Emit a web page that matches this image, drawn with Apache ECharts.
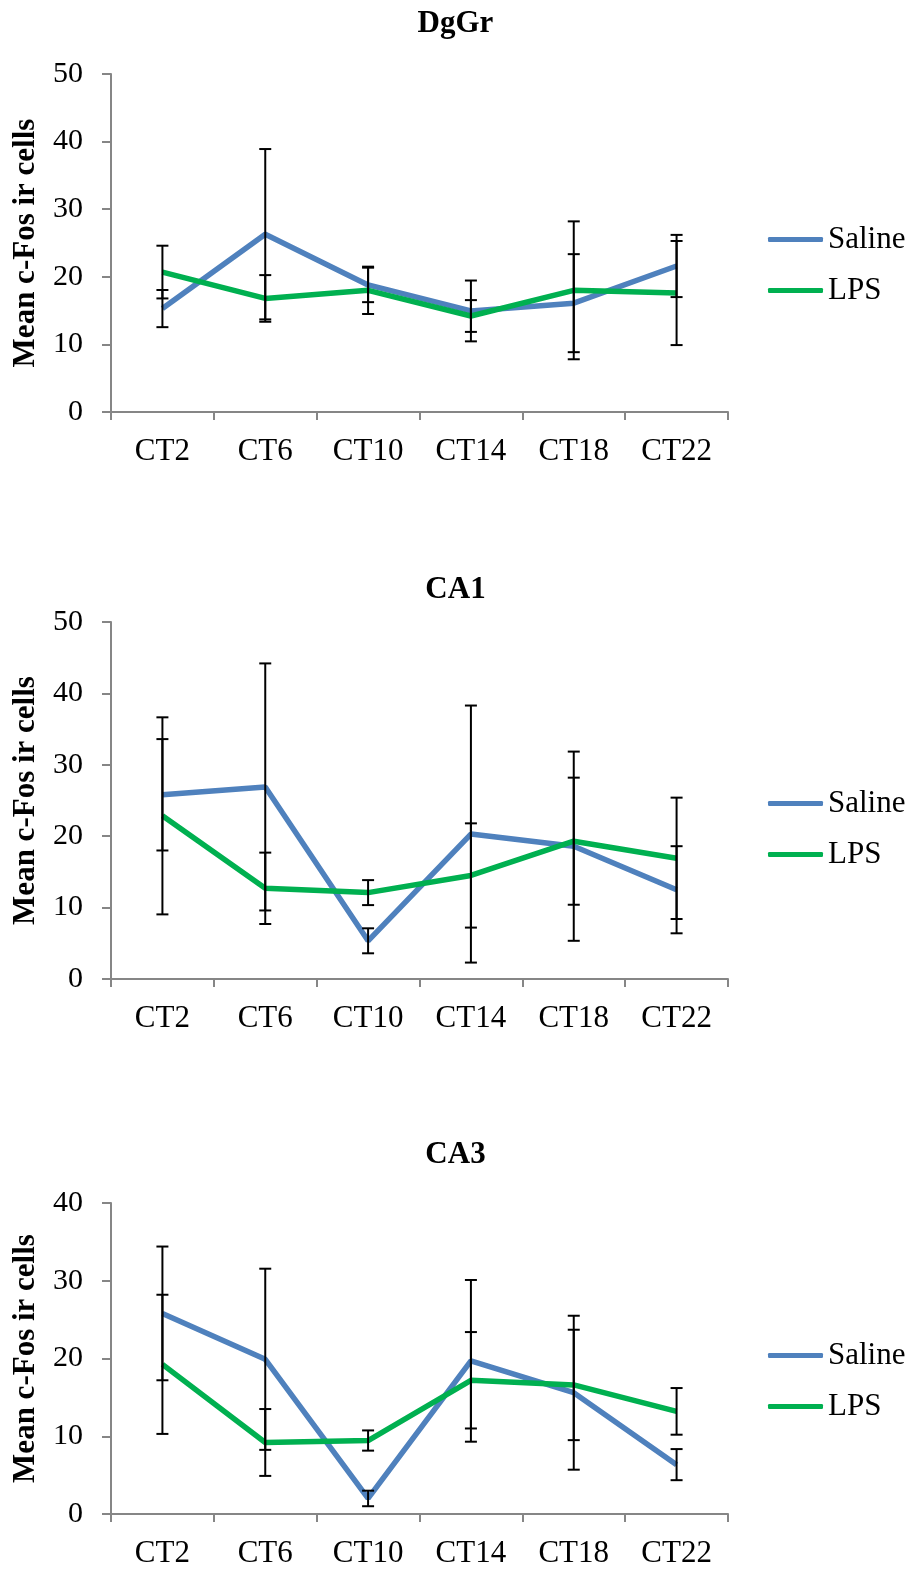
<!DOCTYPE html>
<html>
<head>
<meta charset="utf-8">
<script src="https://cdn.jsdelivr.net/npm/echarts@6/dist/echarts.min.js"></script>
<style>
html,body{margin:0;padding:0;background:#fff;}
#chart{width:911px;height:1569px;}
</style>
</head>
<body>
<div id="chart"></div>
<script>
const categories = ['CT2', 'CT6', 'CT10', 'CT14', 'CT18', 'CT22'];
const panelTitles = ['DgGr', 'CA1', 'CA3'];
const yMax = [50, 50, 40];

const dggrSaline = [15.3, 26.3, 18.8, 14.95, 16.1, 21.6];
const dggrSalineErr = [2.75, 12.6, 2.55, 4.5, 7.25, 4.6];
const dggrLps = [20.7, 16.8, 18.0, 14.2, 18.0, 17.6];
const dggrLpsErr = [3.9, 3.45, 3.5, 2.35, 10.2, 7.7];

const ca1Saline = [25.8, 26.9, 5.35, 20.3, 18.6, 12.5];
const ca1SalineErr = [7.8, 17.3, 1.75, 18.0, 13.25, 6.1];
const ca1Lps = [22.85, 12.7, 12.1, 14.5, 19.3, 16.9];
const ca1LpsErr = [13.8, 5.0, 1.75, 7.3, 8.9, 8.5];

const ca3Saline = [25.8, 19.9, 2.0, 19.7, 15.6, 6.35];
const ca3SalineErr = [8.6, 11.65, 1.0, 10.4, 9.9, 2.0];
const ca3Lps = [19.25, 9.2, 9.45, 17.2, 16.6, 13.2];
const ca3LpsErr = [8.95, 4.3, 1.3, 6.2, 7.1, 3.0];

const panels = [
  {saline: dggrSaline, salineErr: dggrSalineErr, lps: dggrLps, lpsErr: dggrLpsErr},
  {saline: ca1Saline, salineErr: ca1SalineErr, lps: ca1Lps, lpsErr: ca1LpsErr},
  {saline: ca3Saline, salineErr: ca3SalineErr, lps: ca3Lps, lpsErr: ca3LpsErr}
];

const FONT = '"Liberation Serif", "Times New Roman", Tinos, serif';
const BLUE = '#4F81BD';
const GREEN = '#00B050';
const AXIS = '#868686';

const layout = [
  {top: 74, height: 338, titleTop: 6, legendTop: 224},
  {top: 622, height: 357, titleTop: 572, legendTop: 788},
  {top: 1203, height: 311, titleTop: 1137, legendTop: 1340}
];

const chart = echarts.init(document.getElementById('chart'), null, {renderer: 'canvas'});

const option = {
  backgroundColor: '#fff',
  animation: false,
  title: [], grid: [], xAxis: [], yAxis: [], legend: [], series: []
};

function errRender(params, api) {
  const x = api.value(0);
  const lo = api.coord([x, api.value(1)]);
  const hi = api.coord([x, api.value(2)]);
  const hw = 6;
  const st = {stroke: '#000', lineWidth: 2};
  return {
    type: 'group',
    children: [
      {type: 'line', shape: {x1: lo[0], y1: lo[1], x2: hi[0], y2: hi[1]}, style: st},
      {type: 'line', shape: {x1: lo[0] - hw, y1: lo[1], x2: lo[0] + hw, y2: lo[1]}, style: st},
      {type: 'line', shape: {x1: hi[0] - hw, y1: hi[1], x2: hi[0] + hw, y2: hi[1]}, style: st}
    ]
  };
}

panels.forEach((p, i) => {
  const L = layout[i];
  option.title.push({
    text: panelTitles[i], left: 'center', top: L.titleTop, padding: 0,
    textStyle: {fontFamily: FONT, fontSize: 31, fontWeight: 'bold', color: '#000', lineHeight: 36}
  });
  option.grid.push({left: 111, top: L.top, width: 617, height: L.height, containLabel: false, outerBoundsMode: 'none'});
  option.xAxis.push({
    type: 'category', gridIndex: i, data: categories, boundaryGap: true,
    axisLine: {lineStyle: {color: AXIS, width: 2}},
    axisTick: {show: true, alignWithLabel: false, length: 8, lineStyle: {color: AXIS, width: 2}},
    axisLabel: {fontFamily: FONT, fontSize: 31, color: '#000', margin: 24, lineHeight: 32, interval: 0},
    splitLine: {show: false}
  });
  option.yAxis.push({
    type: 'value', gridIndex: i, min: 0, max: yMax[i], interval: 10,
    name: 'Mean c-Fos ir cells', nameLocation: 'middle', nameGap: 70,
    nameTextStyle: {fontFamily: FONT, fontSize: 31, fontWeight: 'bold', color: '#000'},
    axisLine: {show: true, lineStyle: {color: AXIS, width: 2}},
    axisTick: {show: true, length: 9, lineStyle: {color: AXIS, width: 2}},
    axisLabel: {fontFamily: FONT, fontSize: 30, color: '#000', margin: 28},
    splitLine: {show: false}
  });
  option.legend.push({
    orient: 'vertical', left: 768, top: L.legendTop, padding: 0,
    itemWidth: 55, itemHeight: 5, itemGap: 20, icon: 'roundRect',
    data: ['Saline', 'LPS'],
    textStyle: {fontFamily: FONT, fontSize: 31, color: '#000', lineHeight: 31}
  });
  option.series.push({
    name: 'Saline', type: 'line', xAxisIndex: i, yAxisIndex: i, data: p.saline,
    symbol: 'none', lineStyle: {color: BLUE, width: 5.5}, itemStyle: {color: BLUE}, z: 3
  });
  option.series.push({
    name: 'LPS', type: 'line', xAxisIndex: i, yAxisIndex: i, data: p.lps,
    symbol: 'none', lineStyle: {color: GREEN, width: 5.5}, itemStyle: {color: GREEN}, z: 3
  });
  const errData = [];
  categories.forEach((c, k) => {
    errData.push([k, p.saline[k] - p.salineErr[k], p.saline[k] + p.salineErr[k]]);
    errData.push([k, p.lps[k] - p.lpsErr[k], p.lps[k] + p.lpsErr[k]]);
  });
  option.series.push({
    name: 'err' + i, type: 'custom', xAxisIndex: i, yAxisIndex: i, data: errData,
    renderItem: errRender, z: 5, silent: true,
    encode: {x: 0, y: [1, 2]}
  });
});

chart.setOption(option);
</script>
</body>
</html>
